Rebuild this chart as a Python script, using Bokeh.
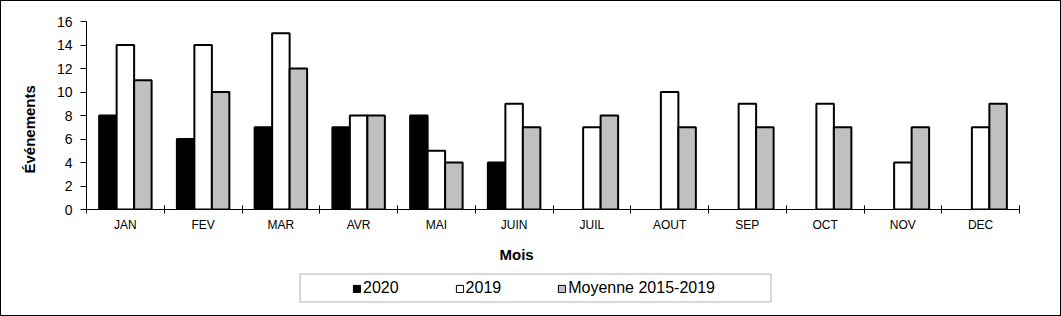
from bokeh.plotting import figure
from bokeh.layouts import column
from bokeh.models import Range1d, FixedTicker, Legend, LegendItem, ColumnDataSource, BoxAnnotation, Title
from bokeh.transform import dodge
from bokeh.embed import file_html
from bokeh.resources import INLINE

# ---- data ----
months = ["JAN", "FEV", "MAR", "AVR", "MAI", "JUIN", "JUIL", "AOUT", "SEP", "OCT", "NOV", "DEC"]
serie_2020 = [8, 6, 7, 7, 8, 4, None, None, None, None, None, None]
serie_2019 = [14, 14, 15, 8, 5, 9, 7, 10, 9, 9, 4, 7]
moyenne = [11, 10, 12, 8, 4, 7, 8, 7, 7, 7, 7, 9]
y_ticks = [0, 2, 4, 6, 8, 10, 12, 14, 16]
series_labels = ["2020", "2019", "Moyenne 2015-2019"]
fills = ["black", "white", "#C0C0C0"]

FONT = "Liberation Sans"
n = len(months)
centers = [i + 0.5 for i in range(n)]
src = ColumnDataSource(dict(
    x=centers,
    a=[float("nan") if v is None else v for v in serie_2020],
    b=serie_2019,
    c=moyenne,
))

W, H1, H2 = 1059, 271, 43
p = figure(width=W, height=H1, x_range=Range1d(0, n), y_range=Range1d(0, 16),
           output_backend="svg", toolbar_location=None,
           min_border_left=85, min_border_right=41, min_border_top=20, min_border_bottom=63)
p.outline_line_color = None
p.xgrid.visible = False
p.ygrid.visible = False
p.background_fill_color = "white"
p.border_fill_color = "white"

bw = 0.225
for off, col, fill in zip([-bw, 0, bw], ["a", "b", "c"], fills):
    p.vbar(x=dodge("x", off, range=p.x_range), top=col, width=bw, source=src,
           fill_color=fill, line_color="black", line_width=2)

# x axis: labels at centers, ticks at boundaries
xa = p.xaxis[0]
xa.ticker = FixedTicker(ticks=centers, minor_ticks=list(range(n + 1)))
xa.major_label_overrides = {c: m for c, m in zip(centers, months)}
xa.major_tick_line_color = None
xa.major_tick_in = 0
xa.major_tick_out = 4
xa.minor_tick_line_color = "black"
xa.minor_tick_in = 4
xa.minor_tick_out = 4
xa.axis_line_color = "black"
xa.major_label_text_font = FONT
xa.major_label_text_font_size = "12px"
xa.major_label_text_color = "black"
xa.major_label_standoff = 4

ya = p.yaxis[0]
ya.ticker = FixedTicker(ticks=y_ticks, minor_ticks=[])
ya.major_tick_in = 0
ya.major_tick_out = 6
ya.major_tick_line_color = "black"
ya.axis_line_color = "black"
ya.major_label_text_font = FONT
ya.major_label_text_font_size = "14px"
ya.major_label_text_color = "black"
ya.major_label_standoff = 8

# axis titles (placed like the original, slightly off-centre)
p.add_layout(Title(text="Mois", align="left", offset=413, standoff=19,
                   text_font=FONT, text_font_style="bold", text_font_size="15px",
                   text_color="black"), "below")
p.add_layout(Title(text="Événements", align="left", offset=36, standoff=31,
                   text_font=FONT, text_font_style="bold", text_font_size="15px",
                   text_color="black"), "left")

# ---- legend strip: frame aligned with the chart frame; coordinates follow page pixels ----
q = figure(width=W, height=H2, x_range=Range1d(86, 1019), y_range=Range1d(315, 272),
           x_axis_type=None, y_axis_type=None, output_backend="svg", toolbar_location=None,
           min_border=0)
q.outline_line_color = None
q.background_fill_color = "white"
q.border_fill_color = "white"

items = []
for lab, fill in zip(series_labels, fills):
    r = q.vbar(x=[0], top=[float("nan")], width=1, fill_color=fill, line_color="black", line_width=1)
    items.append(LegendItem(label=lab, renderers=[r]))

legend = Legend(items=items, orientation="horizontal", location=(266, 18),
                border_line_color=None, background_fill_color=None,
                padding=0, margin=0, spacing=56, label_standoff=2,
                glyph_width=9, glyph_height=9,
                label_text_font=FONT, label_text_font_size="16px",
                label_text_color="black")
q.add_layout(legend, "center")
q.add_layout(BoxAnnotation(left=299.5, right=770.5, top=273.5, bottom=301.5,
                           fill_color=None, line_color="black", line_width=1))

layout = column(p, q, spacing=0,
                styles={"margin": "1px", "box-shadow": "0 0 0 1px black"})

open("out.html", "w").write(file_html(layout, INLINE))
